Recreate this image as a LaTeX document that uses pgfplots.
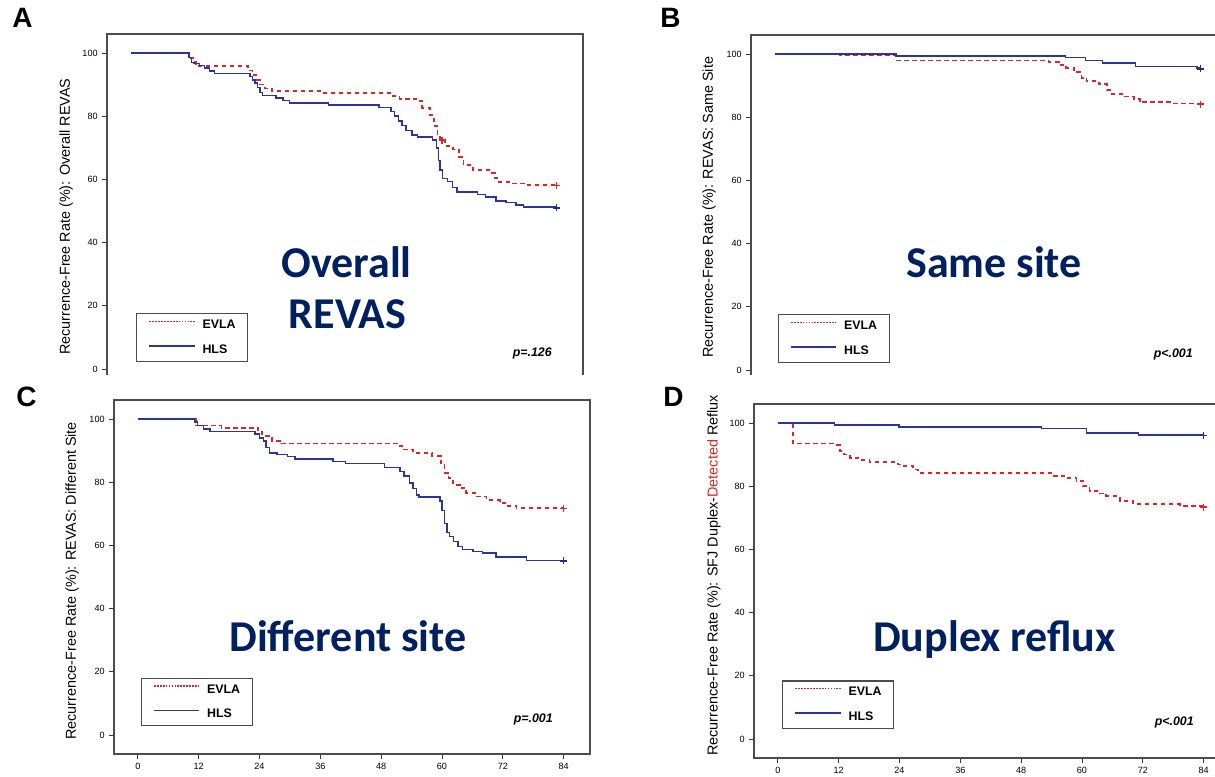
\documentclass[border=0pt]{standalone}
\usepackage{pgfplots}
\pgfplotsset{compat=1.18}
\usepackage{fontspec}
\setmainfont{Liberation Sans}
\newfontfamily\calibri{Carlito}

\definecolor{evred}{RGB}{222,36,36}
\definecolor{hlsblue}{RGB}{42,52,160}
\definecolor{navy}{RGB}{0,32,96}

\pgfplotsset{
  km/.style={
    scale only axis, width=357pt, height=265.5pt,
    xmin=-4.7, xmax=89.2, ymin=-6, ymax=106,
    xtick={0,12,...,84}, ytick={0,20,...,100},
    tick pos=left, tick align=outside, major tick length=3.5pt,
    axis line style={black!70, line width=0.9pt},
    tick style={black!80, line width=0.6pt},
    ticklabel style={font=\fontsize{6.8}{7}\selectfont, /pgf/number format/assume math mode=true},
    ylabel style={font=\fontsize{10.8}{12}\selectfont, anchor=center},
    legend image code/.code={\draw[#1] (0pt,2.8pt) -- (34pt,2.8pt);},
    legend style={anchor=north west, draw=black!70, line width=0.8pt,
      font=\bfseries\fontsize{9.3}{10}\selectfont,
      inner xsep=9pt, inner ysep=4.6pt, row sep=10.5pt, column sep=5.25pt,
      nodes={inner sep=0pt}, cells={anchor=west}},
  },
  evla/.style={evred, line width=1.25pt, dash pattern=on 3.4pt off 2.6pt, const plot, mark=none},
  hls/.style={hlsblue, line width=1.1pt, const plot, mark=none},
  evcens/.style={only marks, mark=+, mark size=2.6pt, evred, line width=1.1pt, solid},
  hlcens/.style={only marks, mark=+, mark size=2.6pt, hlsblue!80!black, line width=1.1pt, solid},
  evleg/.style={evred, line width=1.2pt, dash pattern=on 1.3pt off 0.9pt},
  hlleg/.style={hlsblue, line width=1.2pt, solid},
}

\begin{document}
\begin{tikzpicture}
\useasboundingbox (0,0) rectangle (911.25pt,-582pt);
\clip (0,0) rectangle (911.25pt,-582pt);

\begin{scope}
\clip (0,0) rectangle (911.25pt,-280.5pt);
% A: overall REVAS
\begin{axis}[km, at={(80.25pt,-25.5pt)}, anchor=north west,
  ylabel={Recurrence-Free Rate (\%): Overall REVAS},
  ylabel style={at={(axis description cs:-0.086,0.484)}},
  legend style={at={(0.061,0.211)}}]
\addlegendimage{evleg}
\addlegendentry{EVLA}
\addlegendimage{hlleg}
\addlegendentry{HLS}
\addplot[evla] coordinates {
  (0,100) (11.6,98.5) (12.3,97.2) (12.8,96.6) (13.5,95.9) (23.1,94.5) (24,93)
  (24.8,91.5) (25.5,90) (26.5,88.8) (27.8,87.9) (38,87.3) (51.6,86.4) (53,85.5)
  (56.3,84.8) (57.5,82.5) (59,80.3) (59.8,77) (60.5,74) (61,72.4) (62,70.5)
  (63.5,69.5) (64.8,67) (65.6,64.5) (67.5,63) (71.3,62) (71.8,60.5) (72.3,59.2)
  (75,58.7) (78,58.2) (84,58.2)};
\addplot[hls] coordinates {
  (0,100) (11.5,98.5) (12,97) (12.5,96.6) (13.5,96) (14.5,95.2) (15.5,94.3)
  (16.5,93.5) (23.5,92.5) (24,91.5) (24.5,90.5) (25,89) (25.5,87.5) (26,86.6)
  (28.6,85.8) (30,85) (31.3,84.2) (39,83.5) (49,82.7) (51.3,81.5) (52,80)
  (52.8,78.5) (53.5,77) (54.3,75.5) (55.5,74) (56.5,73.4) (59.5,72.5) (60.3,70)
  (60.7,66) (61,63) (61.5,60.3) (62.5,59.3) (63.5,57.5) (64.3,56) (68.4,55.2)
  (70,54.5) (72,53.2) (74,52.7) (76,51.9) (77.5,51.2) (84,51.2)};
\addplot[evcens] coordinates {(61.4,72.4) (84,58)};
\addplot[hlcens] coordinates {(84,51)};
\end{axis}

% B: same site
\begin{axis}[km, at={(563.25pt,-26.25pt)}, anchor=north west,
  ylabel={Recurrence-Free Rate (\%): REVAS: Same Site},
  ylabel style={at={(axis description cs:-0.088,0.513)}},
  legend style={at={(0.056,0.211)}}]
\addlegendimage{evleg}
\addlegendentry{EVLA}
\addlegendimage{hlleg}
\addlegendentry{HLS}
\addplot[evla] coordinates {
  (0,100) (12.8,99.5) (23.9,97.9) (54,97.5) (56,96.5) (57.5,95.5) (59,94.2)
  (60.5,92.5) (61.5,91.5) (64,90.4) (65.5,88.5) (66.5,87.3) (69,86.5)
  (70.8,85.7) (72,84.7) (78,84.3) (84,84.3)};
\addplot[hls] coordinates {
  (0,100) (23.9,99.4) (57.3,98.8) (61.3,98) (64.6,97.2) (71.1,96.1) (83.3,95.5) (84,95.5)};
\addplot[evcens] coordinates {(84,84.1)};
\addplot[hlcens] coordinates {(84,95.3)};
\end{axis}
\end{scope}

% C: different site
\begin{axis}[km, at={(85.5pt,-300pt)}, anchor=north west,
  ylabel={Recurrence-Free Rate (\%): REVAS: Different Site},
  ylabel style={at={(axis description cs:-0.088,0.489)}},
  legend style={at={(0.056,0.215)}}]
\addlegendimage{evleg}
\addlegendentry{EVLA}
\addlegendimage{hlleg}
\addlegendentry{HLS}
\addplot[evla] coordinates {
  (0,100) (11.5,97.9) (16.5,97.2) (23.7,96) (24.5,94.7) (26.5,93.1) (28.3,92.2)
  (51.7,91.5) (52.5,90.3) (54.3,89.2) (58,88.2) (59.8,86) (60.5,83) (61.3,81.3)
  (62.2,79.2) (63.9,78.2) (64.8,76.5) (66.5,75.5) (68.8,74.4) (71.4,73.4)
  (73,72.5) (74.7,71.8) (84,71.8)};
\addplot[hls] coordinates {
  (0,100) (11.2,99) (11.8,97.9) (13,96.8) (14.2,96.1) (23.1,95.2) (24,94)
  (24.8,93) (25.3,91) (26,89.2) (27.5,88.7) (29.5,88.2) (31,87.3) (38.5,86.6)
  (41,85.9) (48.7,84.7) (51.7,83.4) (52.5,82) (53.6,79.7) (54.3,78) (55,76)
  (55.5,75.3) (59.6,74) (60,71) (60.5,67) (61,64) (61.5,62.8) (62.3,61.2)
  (63.2,59.7) (64.1,58.7) (66.1,58.1) (68,57.6) (70.7,56.3) (76.7,55.2) (84,55.2)};
\addplot[evcens] coordinates {(84,71.6)};
\addplot[hlcens] coordinates {(84,55.1)};
\end{axis}

% D: duplex reflux
\begin{axis}[km, at={(565.5pt,-303pt)}, anchor=north west,
  ylabel={Recurrence-Free Rate (\%): SFJ Duplex-\textcolor{evred}{Detected} Reflux},
  ylabel style={at={(axis description cs:-0.084,0.516)}},
  legend style={at={(0.059,0.219)}}]
\addlegendimage{evleg}
\addlegendentry{EVLA}
\addlegendimage{hlleg}
\addlegendentry{HLS}
\addplot[evla] coordinates {
  (0,100) (3,93.5) (11.2,93) (12.2,91.1) (13,90) (14.2,89) (15.8,88.3)
  (18.1,87.7) (23.7,86.9) (24.5,86.4) (26.7,85.3) (27.7,84.1) (54.5,83.3)
  (56.5,82.5) (58.9,81.7) (60.2,80.1) (61.5,78.5) (63,77.7) (64.8,76.9)
  (67.5,75.3) (70.1,74.3) (79.3,73.8) (84,73.8)};
\addplot[hls] coordinates {
  (0,100) (11.2,99.4) (23.9,98.8) (52,98.2) (60.9,96.9) (71.1,96.2) (84,96.2)};
\addplot[evcens] coordinates {(84,73.4)};
\addplot[hlcens] coordinates {(84,96.1)};
\end{axis}

% panel letters
\begin{scope}[font=\bfseries\fontsize{21}{24}\selectfont]
\node[anchor=base west, inner sep=0pt] at (9pt,-20.25pt) {A};
\node[anchor=base west, inner sep=0pt] at (495pt,-20.25pt) {B};
\node[anchor=base west, inner sep=0pt] at (12pt,-304.5pt) {C};
\node[anchor=base west, inner sep=0pt] at (497.25pt,-304.5pt) {D};
\end{scope}

% big blue titles
\begin{scope}[font=\calibri\bfseries\fontsize{33}{40}\selectfont, text=navy]
\node[anchor=base, inner sep=0pt] at (259.9pt,-207.75pt) {Overall};
\node[anchor=base, inner sep=0pt] at (260.6pt,-246pt) {REVAS};
\node[anchor=base, inner sep=0pt] at (745.5pt,-207.75pt) {Same site};
\node[anchor=base, inner sep=0pt] at (261pt,-488.25pt) {Different site};
\node[anchor=base, inner sep=0pt] at (745.9pt,-488.25pt) {Duplex reflux};
\end{scope}

% p values
\begin{scope}[font=\bfseries\itshape\fontsize{9.3}{10}\selectfont]
\node[anchor=base east, inner sep=0pt] at (414pt,-267pt) {p=.126};
\node[anchor=base east, inner sep=0pt] at (894.75pt,-267.75pt) {p<.001};
\node[anchor=base east, inner sep=0pt] at (414.75pt,-541.5pt) {p=.001};
\node[anchor=base east, inner sep=0pt] at (895.5pt,-543.75pt) {p<.001};
\end{scope}
\end{tikzpicture}
\end{document}
